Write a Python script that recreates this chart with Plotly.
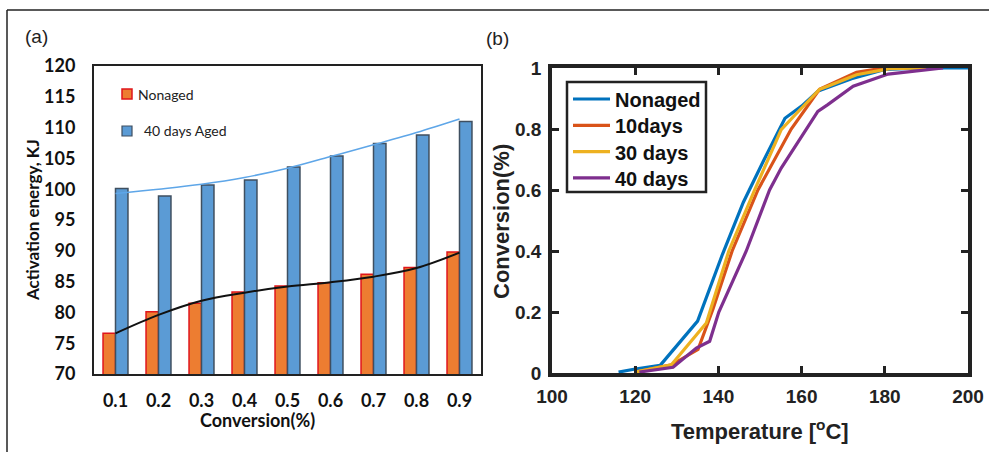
import plotly.graph_objects as go

# ---------------- data ----------------
conversion = ["0.1", "0.2", "0.3", "0.4", "0.5", "0.6", "0.7", "0.8", "0.9"]
nonaged_Ea = [76.6, 80.1, 81.5, 83.3, 84.3, 84.8, 86.2, 87.3, 89.8]
aged40_Ea = [100.1, 98.9, 100.7, 101.5, 103.6, 105.4, 107.4, 108.8, 111.0]
nonaged_trend = [76.6, 79.6, 81.9, 83.2, 84.2, 84.9, 85.8, 87.2, 89.7]
aged40_trend = [99.3, 100.0, 100.8, 101.9, 103.4, 105.3, 107.2, 109.2, 111.4]

T_nonaged = [116, 120, 126, 135, 141, 146, 151, 156, 160, 164, 172, 180, 190, 200]
C_nonaged = [0.003, 0.013, 0.025, 0.17, 0.39, 0.56, 0.70, 0.835, 0.875, 0.925, 0.965, 0.995, 1.0, 1.0]
T_10days = [120, 128.7, 135.1, 138.7, 143.3, 149.5, 157.5, 164.3, 166.7, 173.2, 178.8, 185]
C_10days = [0.003, 0.027, 0.077, 0.21, 0.40, 0.60, 0.80, 0.93, 0.945, 0.986, 0.998, 1.0]
T_30days = [120, 128.7, 137.1, 142.5, 148.7, 155.1, 158.7, 164.3, 166.3, 173.2, 181.2, 190]
C_30days = [0.003, 0.027, 0.164, 0.40, 0.60, 0.798, 0.85, 0.93, 0.94, 0.978, 0.998, 1.0]
T_40days = [121, 129.1, 134.7, 137.9, 140.1, 146.7, 152.3, 155.1, 163.9, 166.3, 172.4, 180.8, 194]
C_40days = [0.003, 0.019, 0.082, 0.104, 0.20, 0.40, 0.60, 0.672, 0.858, 0.88, 0.94, 0.98, 1.0]

series_names_b = ["Nonaged", "10days", "30 days", "40 days"]
series_colors_b = ["#0072BD", "#D95319", "#EDB120", "#7E2F8E"]

W, H = 989, 452


def px(x):
    return x / W


def py(y):
    return 1 - y / H


fig = go.Figure()

# ---------------- panel (a) ----------------
fig.add_trace(go.Bar(x=conversion, y=nonaged_Ea, name="Nonaged",
                     marker=dict(color="#ED7D31", line=dict(color="#E0161B", width=1.5)),
                     xaxis="x", yaxis="y", showlegend=False))
fig.add_trace(go.Bar(x=conversion, y=aged40_Ea, name="40 days Aged",
                     marker=dict(color="#5B9BD5", line=dict(color="#3F4F60", width=1.5)),
                     xaxis="x", yaxis="y", showlegend=False))
fig.add_trace(go.Scatter(x=conversion, y=aged40_trend, mode="lines", line=dict(color="#5EA6E8", width=1.6, shape="spline"),
                         xaxis="x", yaxis="y", showlegend=False, hoverinfo="skip"))
fig.add_trace(go.Scatter(x=conversion, y=nonaged_trend, mode="lines", line=dict(color="#111111", width=2, shape="spline"),
                         xaxis="x", yaxis="y", showlegend=False, hoverinfo="skip"))

# ---------------- panel (b) ----------------
series_b = list(zip(series_names_b, [T_nonaged, T_10days, T_30days, T_40days],
                    [C_nonaged, C_10days, C_30days, C_40days], series_colors_b))
for name, tx, cy, col in series_b:
    fig.add_trace(go.Scatter(x=tx, y=cy, name=name, mode="lines",
                             line=dict(color=col, width=3.2),
                             xaxis="x2", yaxis="y2", showlegend=False))

left_font = "Lato, Open Sans, sans-serif"
right_font = "Liberation Sans, Arial, sans-serif"

fig.update_layout(
    width=W, height=H,
    margin=dict(l=0, r=0, t=0, b=0, autoexpand=False),
    paper_bgcolor="white", plot_bgcolor="white",
    showlegend=False,
    barmode="group", bargap=0.42, bargroupgap=0,
    xaxis=dict(domain=[px(94), px(481)], anchor="y", type="category", automargin=False,
               showline=True, mirror=True, linecolor="#222222", linewidth=2,
               ticks="", showgrid=False, zeroline=False,
               tickfont=dict(family=left_font, size=18, color="#111111", weight="bold"),
               ticklabelstandoff=9),
    yaxis=dict(domain=[py(374), py(66)], anchor="x", range=[70, 120], dtick=5, automargin=False,
               showline=True, mirror=True, linecolor="#222222", linewidth=2,
               ticks="", showgrid=False, zeroline=False,
               tickfont=dict(family=left_font, size=18, color="#111111", weight="bold"),
               ticklabelstandoff=13),
    xaxis2=dict(domain=[px(552), px(968)], anchor="y2", range=[100, 200], dtick=20, automargin=False,
                showline=True, mirror="ticks", linecolor="#222222", linewidth=3.5,
                ticks="inside", ticklen=7, tickwidth=3, tickcolor="#222222",
                showgrid=False, zeroline=False,
                tickfont=dict(family=right_font, size=19, color="#222222", weight="bold"),
                ticklabelstandoff=3),
    yaxis2=dict(domain=[py(373), py(68)], anchor="x2", range=[0, 1], automargin=False,
                tickvals=[0, 0.2, 0.4, 0.6, 0.8, 1], ticktext=["0", "0.2", "0.4", "0.6", "0.8", "1"],
                showline=True, mirror="ticks", linecolor="#222222", linewidth=3.5,
                ticks="inside", ticklen=7, tickwidth=3, tickcolor="#222222",
                showgrid=False, zeroline=False,
                tickfont=dict(family=right_font, size=19, color="#222222", weight="bold"),
                ticklabelstandoff=3),
)

annotations = [
    dict(text="(a)", x=px(36), y=py(37), font=dict(family=right_font, size=19, color="#222222")),
    dict(text="(b)", x=px(497), y=py(38), font=dict(family=right_font, size=19, color="#222222")),
    dict(text="Activation energy, KJ", x=px(32), y=py(220), textangle=-90,
         font=dict(family=left_font, size=17, color="#111111", weight="bold")),
    dict(text="Conversion(%)", x=px(257), y=py(420),
         font=dict(family=left_font, size=18, color="#111111", weight="bold")),
    dict(text="Conversion(%)", x=px(502), y=py(221), textangle=-90,
         font=dict(family=right_font, size=22, color="#222222", weight="bold")),
    dict(text="Temperature [<sup>o</sup>C]", x=px(760), y=py(430),
         font=dict(family=right_font, size=22, color="#222222", weight="bold")),
    dict(text="Nonaged", x=px(136), y=py(94), xanchor="left",
         font=dict(family=left_font, size=14, color="#222222")),
    dict(text="40 days Aged", x=px(142), y=py(131), xanchor="left",
         font=dict(family=left_font, size=14, color="#222222")),
]

shapes = [
    # outer figure frame (left and top edges visible)
    dict(type="line", x0=px(7), x1=px(7), y0=py(10), y1=py(460), line=dict(color="#222222", width=1.5)),
    dict(type="line", x0=px(7), x1=px(995), y0=py(10), y1=py(10), line=dict(color="#222222", width=1.5)),
    # panel (a) legend keys
    dict(type="rect", x0=px(122), x1=px(132), y0=py(99), y1=py(89),
         fillcolor="#ED7D31", line=dict(color="#E0161B", width=1.5)),
    dict(type="rect", x0=px(122), x1=px(132), y0=py(136), y1=py(126),
         fillcolor="#5B9BD5", line=dict(color="#3F4F60", width=1.2)),
    # panel (b) legend box
    dict(type="rect", x0=px(567), x1=px(706), y0=py(192), y1=py(82),
         fillcolor="white", line=dict(color="#222222", width=2.5)),
]
# panel (b) legend entries
for i, (name, col) in enumerate(zip(series_names_b, series_colors_b)):
    yy = 99 + 26.3 * i
    shapes.append(dict(type="line", x0=px(573), x1=px(610), y0=py(yy), y1=py(yy),
                       line=dict(color=col, width=3.2)))
    annotations.append(dict(text=name, x=px(613), y=py(yy + 1), xanchor="left",
                            font=dict(family=right_font, size=20, color="#111111", weight="bold")))

for a in annotations:
    a.update(xref="paper", yref="paper", showarrow=False)
    a.setdefault("xanchor", "center")
    a.setdefault("yanchor", "middle")
for s in shapes:
    s.update(xref="paper", yref="paper")
fig.update_layout(annotations=annotations, shapes=shapes)

fig.write_html("out.html", config={"displayModeBar": False},
               post_script="document.body.style.margin='0';document.body.style.padding='0';document.body.style.overflow='hidden';")
